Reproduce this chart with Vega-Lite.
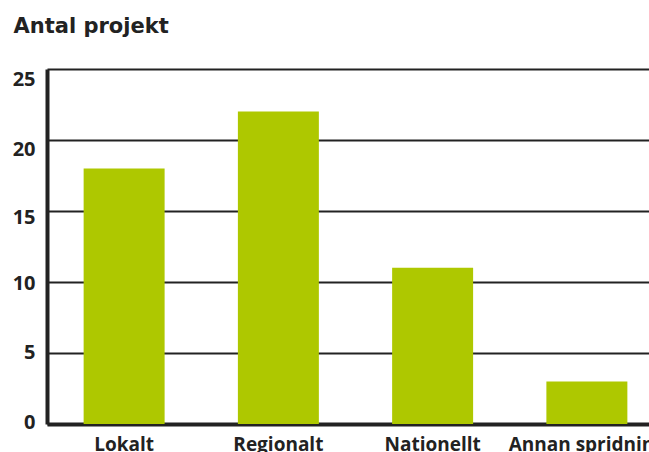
{
  "$schema": "https://vega.github.io/schema/vega-lite/v6.json",
  "autosize": "none",
  "width": 602,
  "height": 355,
  "padding": {"left": 47, "top": 69, "right": 0, "bottom": 28},
  "background": "white",
  "config": {"view": {"stroke": null}, "font": "Open Sans"},
  "data": {"values": [
    {"kategori": "Lokalt", "antal": 18},
    {"kategori": "Regionalt", "antal": 22},
    {"kategori": "Nationellt", "antal": 11},
    {"kategori": "Annan spridning", "antal": 3}
  ]},
  "mark": {"type": "bar", "color": "#aec800"},
  "encoding": {
    "x": {
      "field": "kategori", "type": "nominal", "sort": null,
      "scale": {"range": [0, 617], "paddingInner": 0.475, "paddingOuter": 0.2375},
      "axis": {
        "title": null, "labelAngle": 0, "labelFont": "Open Sans", "labelFontWeight": "bold",
        "labelFontSize": 19, "labelColor": "#222222", "labelPadding": 26, "labelBaseline": "alphabetic",
        "ticks": false, "domainColor": "#222222", "domainWidth": 4, "labelOverlap": false, "labelBound": false
      }
    },
    "y": {
      "field": "antal", "type": "quantitative",
      "scale": {"domain": [0, 25], "nice": false},
      "axis": {
        "values": [0, 5, 10, 15, 20, 25],
        "title": "Antal projekt", "titleAngle": 0, "titleAlign": "left", "titleBaseline": "alphabetic",
        "titleX": -34, "titleY": -37, "titleFont": "DejaVu Sans", "titleFontSize": 21, "titleFontWeight": "bold", "titleColor": "#222222",
        "labelFont": "Open Sans", "labelFontWeight": "bold", "labelFontSize": 20, "labelColor": "#222222",
        "labelPadding": 12, "ticks": false, "labelBaseline": "middle",
        "labelOffset": {"condition": [
          {"test": "datum.value == 25", "value": 10},
          {"test": "datum.value == 20", "value": 9},
          {"test": "datum.value == 15", "value": 6},
          {"test": "datum.value == 10", "value": 1},
          {"test": "datum.value == 5", "value": -1}
        ], "value": -2},
        "domainColor": "#222222", "domainWidth": 4,
        "gridColor": "#222222", "gridWidth": 2, "gridOpacity": 1
      }
    }
  }
}
